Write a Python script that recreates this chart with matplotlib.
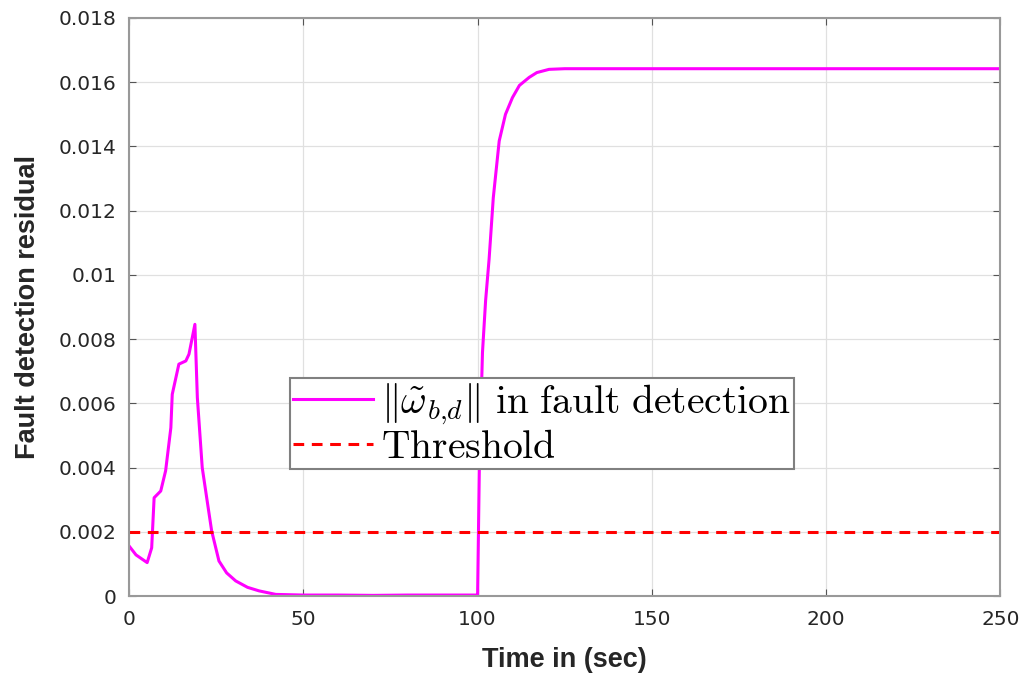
import matplotlib.pyplot as plt
import numpy as np

plt.rcParams['mathtext.fontset'] = 'cm'
plt.rcParams['font.family'] = ['Liberation Sans', 'DejaVu Sans']

# residual (time in sec, residual)
t_res = [0, 2, 5.2, 6.5, 7.2, 9.1, 10.5, 12.0, 12.4, 14.3, 16.3, 17.2, 18.9,
         19.6, 21.0, 22.5, 23.7, 25.8, 28, 30.6, 34, 37.3, 42.1, 50, 60, 70,
         80, 90, 99.9, 100.0, 100.5, 101.4, 102.3, 103.3, 104.5, 106.2, 108,
         110, 112, 114.8, 117, 120.5, 125, 130, 150, 175, 200, 225, 250]
r_res = [0.00156, 0.00128, 0.00104, 0.00150, 0.00306, 0.00327, 0.0039,
         0.00524, 0.00628, 0.00722, 0.00732, 0.00753, 0.00846, 0.00618,
         0.0040, 0.0029, 0.00203, 0.00109, 0.00072, 0.00047, 0.00027,
         0.00016, 0.00005, 0.00003, 0.00003, 0.00002, 0.00003, 0.00003,
         0.00003, 0.0, 0.0040, 0.00758, 0.0092, 0.01049, 0.0124, 0.01417,
         0.0150, 0.01552, 0.0159, 0.01615, 0.0163, 0.0164, 0.01642, 0.01642,
         0.01642, 0.01642, 0.01642, 0.01642, 0.01642]
threshold = 0.002
xticks = [0, 50, 100, 150, 200, 250]
yticks = np.arange(0, 0.0181, 0.002)
ytick_labels = ['0', '0.002', '0.004', '0.006', '0.008', '0.01',
                '0.012', '0.014', '0.016', '0.018']

fig = plt.figure(figsize=(10.24, 6.73), dpi=100)
ax = fig.add_axes([0.126, 0.1144, 0.851, 0.8589])

ax.plot(t_res, r_res, color='#ff00ff', lw=2.2,
        label=r'$\|\tilde{\omega}_{b{,}d}\|\ \mathrm{in\ fault\ detection}$')
ax.plot([0, 250], [threshold, threshold], color='#ff0000', lw=2.2,
        ls=(0, (3.5, 2.5)), label=r'$\mathrm{Threshold}$')

ax.set_xlim(0, 250)
ax.set_ylim(0, 0.018)
ax.set_xticks(xticks)
ax.set_yticks(yticks)
ax.set_yticklabels(ytick_labels)
ax.grid(True, color='#e0e0e0', lw=0.9)
ax.set_axisbelow(True)
ax.tick_params(direction='in', top=True, right=True, length=5,
               colors='#555555', labelcolor='#262626')
ax.tick_params(axis='x', pad=10)
ax.tick_params(axis='y', pad=9)
for lab in ax.get_xticklabels() + ax.get_yticklabels():
    lab.set_family('DejaVu Sans')
    lab.set_fontsize(14.5)
for s in ax.spines.values():
    s.set_color('#999999')
    s.set_linewidth(1.5)

ax.set_xlabel('Time in (sec)', fontsize=19.5, fontweight='bold', color='#262626',
              labelpad=13)
ax.set_ylabel('Fault detection residual', fontsize=19.5, fontweight='bold',
              color='#262626', labelpad=13)

leg = ax.legend(loc='lower left', bbox_to_anchor=(0.185, 0.22), fontsize=28.5,
                fancybox=False, edgecolor='#808080', framealpha=1,
                handlelength=2.0, handletextpad=0.22, borderpad=0.08,
                labelspacing=0.02, borderaxespad=0)
leg.get_frame().set_linewidth(1.5)

fig.savefig('out.png', dpi=100)
